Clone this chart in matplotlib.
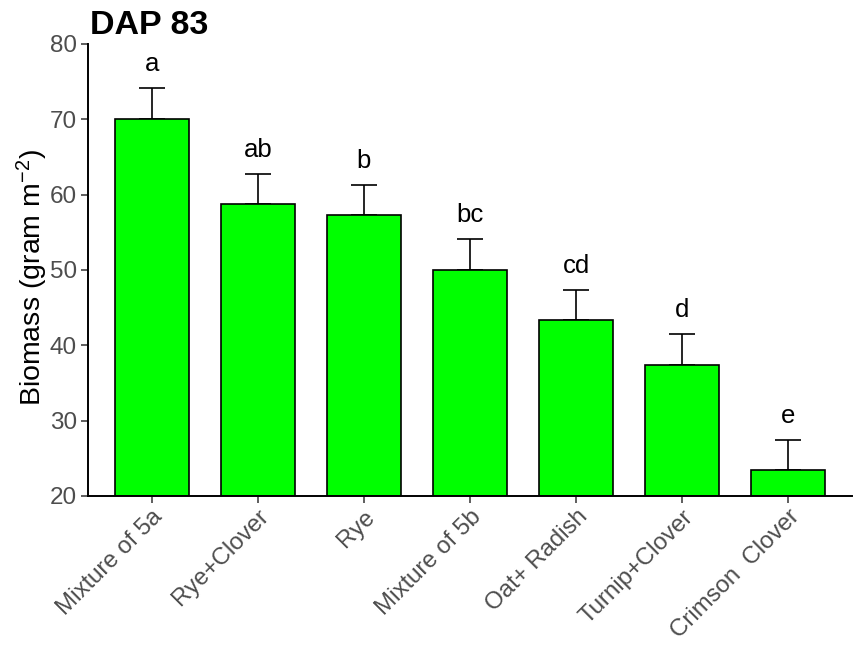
import matplotlib
matplotlib.use("Agg")
import matplotlib.pyplot as plt

# Cover-crop biomass at 83 days after planting
treatments = ["Mixture of 5a", "Rye+Clover", "Rye", "Mixture of 5b",
              "Oat+ Radish", "Turnip+Clover", "Crimson  Clover"]
biomass = [70.1, 58.7, 57.3, 50.0, 43.4, 37.4, 23.4]
std_err = [4.1, 4.1, 4.0, 4.1, 4.0, 4.1, 4.0]
groups = ["a", "ab", "b", "bc", "cd", "d", "e"]
y_ticks = [20, 30, 40, 50, 60, 70, 80]

plt.rcParams["font.family"] = ["Liberation Sans", "DejaVu Sans"]
plt.rcParams["mathtext.fontset"] = "custom"
plt.rcParams["mathtext.rm"] = "Liberation Sans"
plt.rcParams["mathtext.it"] = "Liberation Sans:italic"

fig = plt.figure(figsize=(8.54, 6.45), dpi=100)
ax = fig.add_axes([88 / 854, 1 - 496 / 645, (852 - 88) / 854, (496 - 44) / 645])

x = list(range(len(treatments)))
ax.errorbar(x, biomass, yerr=[[0] * len(x), std_err], fmt="none",
            ecolor="black", elinewidth=1.2, capsize=9.5, capthick=1.2, zorder=1)
ax.bar(x, [b - 20 for b in biomass], bottom=20, width=0.7, color="#00FF00",
       edgecolor="black", linewidth=1.2, zorder=2)

for xi, b, e, g in zip(x, biomass, std_err, groups):
    ax.text(xi, b + e + 1.6, g, ha="center", va="bottom", fontsize=18.5, color="black")

ax.set_xlim(-0.6, len(x) - 0.4)
ax.set_ylim(20, 80)
ax.set_yticks(y_ticks)
ax.set_xticks(x)
ax.set_xticklabels(treatments, rotation=45, ha="right", va="top",
                   rotation_mode="anchor", fontsize=17.3, color="#4D4D4D")
ax.tick_params(axis="y", labelsize=17.5, labelcolor="#4D4D4D")
ax.tick_params(axis="both", direction="out", length=5, width=1.1, color="#333333", pad=3)
ax.tick_params(axis="x", pad=2)

for side in ["top", "right"]:
    ax.spines[side].set_visible(False)
for side in ["left", "bottom"]:
    ax.spines[side].set_linewidth(1.4)
    ax.spines[side].set_color("black")

fig.text(32 / 854, 1 - 278 / 645, "Biomass (gram m$^{-2}$)", fontsize=20.5,
         rotation=90, ha="center", va="center", color="black")
fig.text(90 / 854, 1 - 26 / 645, "DAP 83", fontsize=24.5, fontweight="bold",
         ha="left", va="center", color="black")

fig.savefig("out.png", dpi=100)
